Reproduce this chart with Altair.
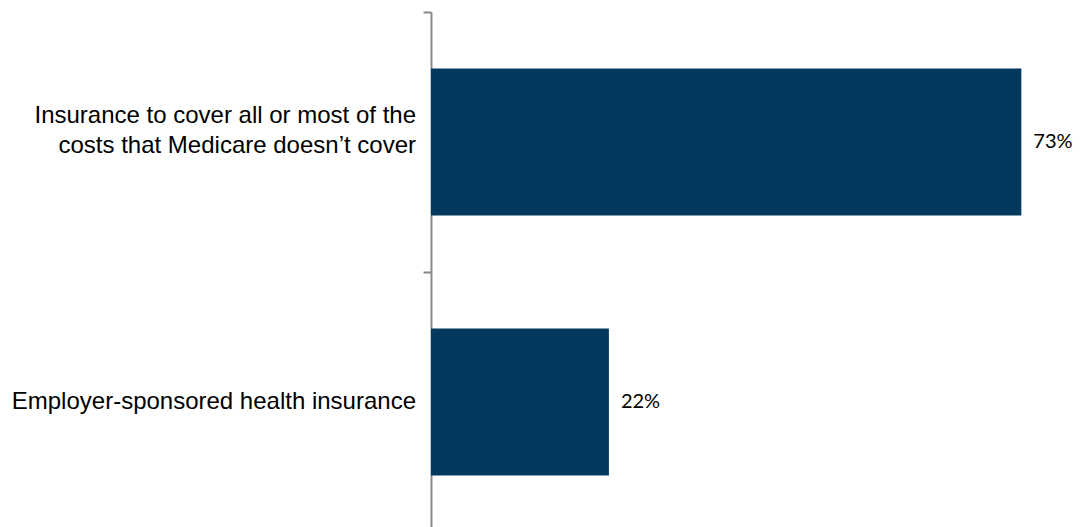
import altair as alt
import pandas as pd

categories = [
    "Insurance to cover all or most of the|costs that Medicare doesn\u2019t cover",
    "Employer-sponsored health insurance",
]
values = [73, 22]

df = pd.DataFrame({"category": categories, "value": values})

y_enc = alt.Y(
    "category:N",
    sort=None,
    title=None,
    scale=alt.Scale(paddingInner=0, paddingOuter=0),
    axis=alt.Axis(
        labels=False,
        tickBand="extent",
        tickSize=8,
        tickWidth=2,
        tickColor="#898989",
        domainColor="#898989",
        domainWidth=2,
        grid=False,
    ),
)
x_enc = alt.X("value:Q", title=None, scale=alt.Scale(domain=[0, 78.4], nice=False), axis=None)

base = alt.Chart(df).encode(y=y_enc)

bars = base.mark_bar(color="#04395E", size=147).encode(x=x_enc)
values_text = base.transform_calculate(lbl="datum.value + '%'").mark_text(
    align="left", baseline="middle", dx=12, font="Lato", fontSize=20, color="#000000"
).encode(x=x_enc, text="lbl:N")

text_style = dict(
    align="right",
    baseline="middle",
    lineBreak="|",
    lineHeight=30,
    font="Liberation Sans",
    fontSize=24,
    color="#000000",
)
cat_multi = (
    base.transform_filter("indexof(datum.category, '|') >= 0")
    .mark_text(dy=-26, **text_style)
    .encode(x=alt.value(-15), text="category:N")
)
cat_single = (
    base.transform_filter("indexof(datum.category, '|') < 0")
    .mark_text(**text_style)
    .encode(x=alt.value(-15), text="category:N")
)

chart = (
    alt.layer(bars, values_text, cat_multi, cat_single)
    .properties(
        width=634,
        height=520,
        background="#ffffff",
        autosize=alt.AutoSizeParams(type="none"),
        padding={"left": 423, "top": 4, "right": 8, "bottom": 0},
    )
    .configure_view(strokeWidth=0, stroke="transparent")
)

chart.save("out.html", embed_options={"renderer": "svg", "actions": False})
